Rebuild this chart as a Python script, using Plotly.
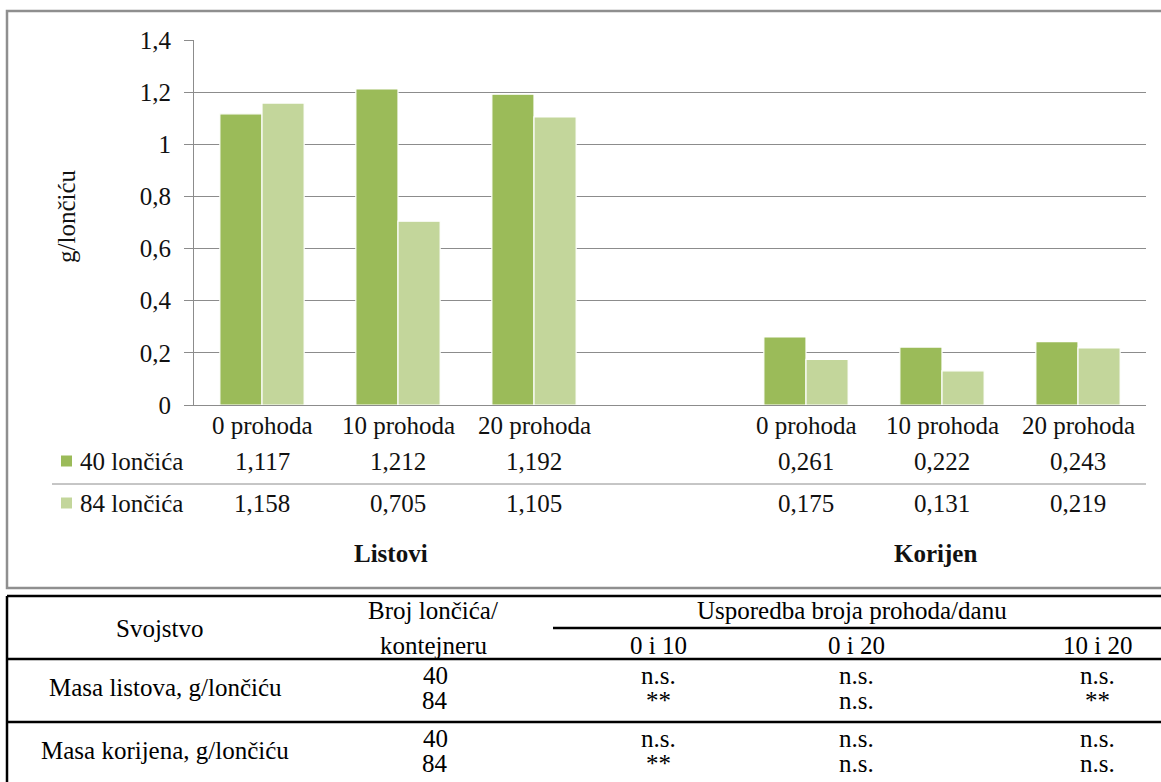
import plotly.graph_objects as go

# ---------------- data ----------------
categories = ["0 prohoda", "10 prohoda", "20 prohoda"]
groups = ["Listovi", "Korijen"]
series_names = ["40 lončića", "84 lončića"]
listovi_40 = [1.117, 1.212, 1.192]
listovi_84 = [1.158, 0.705, 1.105]
korijen_40 = [0.261, 0.222, 0.243]
korijen_84 = [0.175, 0.131, 0.219]
y_ticks = [0, 0.2, 0.4, 0.6, 0.8, 1.0, 1.2, 1.4]
y_title = "g/lončiću"

table_header_1 = ["Svojstvo", "Broj lončića/", "Usporedba broja prohoda/danu"]
table_header_2 = ["kontejneru", "0 i 10", "0 i 20", "10 i 20"]
table_props = ["Masa listova, g/lončiću", "Masa korijena, g/lončiću"]
table_counts = ["40", "84"]
table_listovi = [["n.s.", "n.s.", "n.s."], ["**", "n.s.", "**"]]
table_korijen = [["n.s.", "n.s.", "n.s."], ["**", "n.s.", "n.s."]]

# ---------------- layout helpers ----------------
W, H = 1161, 782
FONT = "Liberation Serif, Times New Roman, serif"
C_DARK = "#9BBB59"
C_LIGHT = "#C3D69B"
GRID = "#8C8C8C"
TXT = "#111111"


def px(x):
    return x / W


def py(y):
    return 1 - y / H


plot_l, plot_r, plot_t, plot_b = 194, 1146, 40, 405

# slot positions: group 0 -> 0,1,2 ; blank slot 3 ; group 1 -> 4,5,6
xpos = [gi * 4 + ci for gi in range(len(groups)) for ci in range(len(categories))]
s40 = listovi_40 + korijen_40
s84 = listovi_84 + korijen_84

fig = go.Figure()
fig.add_trace(go.Bar(x=xpos, y=s40, name=series_names[0],
                     marker=dict(color=C_DARK, line=dict(color="white", width=1.2))))
fig.add_trace(go.Bar(x=xpos, y=s84, name=series_names[1],
                     marker=dict(color=C_LIGHT, line=dict(color="white", width=1.2))))

annotations = []
shapes = []

# data-table under the axis
row_cat, row_a, row_b, row_grp = 425, 461, 503, 553
for i, xp in enumerate(xpos):
    ci = i % 3
    annotations.append(dict(x=xp, xref="x", y=py(row_cat), yref="paper", text=categories[ci],
                            showarrow=False, xanchor="center", yanchor="middle",
                            font=dict(family=FONT, size=25, color=TXT)))
    annotations.append(dict(x=xp, xref="x", y=py(row_a), yref="paper",
                            text=f"{s40[i]:.3f}".replace(".", ","),
                            showarrow=False, xanchor="center", yanchor="middle",
                            font=dict(family=FONT, size=25, color=TXT)))
    annotations.append(dict(x=xp, xref="x", y=py(row_b), yref="paper",
                            text=f"{s84[i]:.3f}".replace(".", ","),
                            showarrow=False, xanchor="center", yanchor="middle",
                            font=dict(family=FONT, size=25, color=TXT)))

for gi, g in enumerate(groups):
    annotations.append(dict(x=gi * 4 + 0.95, xref="x", y=py(row_grp), yref="paper",
                            text=f"<b>{g}</b>", showarrow=False, xanchor="center",
                            yanchor="middle", font=dict(family=FONT, size=25, color=TXT)))

# legend keys of the data table
for ry, col, name in [(row_a, C_DARK, series_names[0]), (row_b, C_LIGHT, series_names[1])]:
    shapes.append(dict(type="rect", xref="paper", yref="paper",
                       x0=px(61), x1=px(72), y0=py(ry + 5.5), y1=py(ry - 5.5),
                       fillcolor=col, line=dict(width=0)))
    annotations.append(dict(x=px(78), xref="paper", y=py(ry), yref="paper", text=name,
                            showarrow=False, xanchor="left", yanchor="middle",
                            font=dict(family=FONT, size=25, color=TXT)))

shapes.append(dict(type="line", xref="paper", yref="paper", x0=px(52), x1=px(plot_r),
                   y0=py(484), y1=py(484), line=dict(color=GRID, width=1)))

# y-axis title
annotations.append(dict(x=px(67), xref="paper", y=py(216), yref="paper", text=y_title,
                        textangle=-90, showarrow=False, xanchor="center", yanchor="middle",
                        font=dict(family=FONT, size=25, color=TXT)))

# chart frame
shapes.append(dict(type="rect", xref="paper", yref="paper", x0=px(7), x1=px(1170),
                   y0=py(588), y1=py(11), line=dict(color="#8F8F8F", width=2.5)))

# ---------------- bottom table ----------------
TB = "#000000"
for yy, x0 in [(596, 7), (659, 7), (722, 7), (628, 553)]:
    shapes.append(dict(type="line", xref="paper", yref="paper", x0=px(x0), x1=px(1170),
                       y0=py(yy), y1=py(yy), line=dict(color=TB, width=2.5)))
shapes.append(dict(type="line", xref="paper", yref="paper", x0=px(7), x1=px(7),
                   y0=py(596), y1=py(790), line=dict(color=TB, width=2.5)))


def tt(x, y, text):
    annotations.append(dict(x=px(x), xref="paper", y=py(y), yref="paper", text=text,
                            showarrow=False, xanchor="center", yanchor="middle",
                            font=dict(family=FONT, size=25, color=TB)))


tt(160, 628, table_header_1[0])
tt(433, 610, table_header_1[1])
tt(852, 610, table_header_1[2])
tt(433, 645, table_header_2[0])
cmp_x = [658, 856, 1097]
for j in range(3):
    tt(cmp_x[j], 645, table_header_2[j + 1])

for blk, (prop, vals) in enumerate([(table_props[0], table_listovi), (table_props[1], table_korijen)]):
    y40 = 675 + blk * 63
    y84 = y40 + 25
    tt(165, (y40 + y84) / 2, prop)
    tt(435, y40, table_counts[0])
    tt(435, y84, table_counts[1])
    for j in range(3):
        tt(cmp_x[j], y40, vals[0][j])
        tt(cmp_x[j], y84, vals[1][j])

fig.update_layout(
    width=W, height=H,
    margin=dict(l=0, r=0, t=0, b=0, pad=0, autoexpand=False),
    paper_bgcolor="white", plot_bgcolor="white",
    showlegend=False,
    barmode="group", bargap=0.38, bargroupgap=0.0,
    font=dict(family=FONT, size=25, color=TXT),
    xaxis=dict(domain=[px(plot_l), px(plot_r)], range=[-0.5, 6.5], showticklabels=False,
               showgrid=False, zeroline=False, showline=True, linecolor=GRID, linewidth=1,
               ticks="", automargin=False, fixedrange=True),
    yaxis=dict(domain=[py(plot_b), py(plot_t)], range=[0, 1.4], tickvals=y_ticks,
               ticktext=[f"{v:g}".replace(".", ",") for v in y_ticks],
               showgrid=True, gridcolor=GRID, gridwidth=1, zeroline=False,
               showline=True, linecolor=GRID, linewidth=1, ticks="outside", ticklen=9,
               tickcolor=GRID, ticklabelstandoff=8, automargin=False, fixedrange=True,
               tickfont=dict(family=FONT, size=25, color=TXT)),
    annotations=annotations, shapes=shapes,
)

fig.write_html("out.html", config={"displayModeBar": False},
               post_script="document.body.style.margin='0';document.body.style.padding='0';document.body.style.overflow='hidden';")
